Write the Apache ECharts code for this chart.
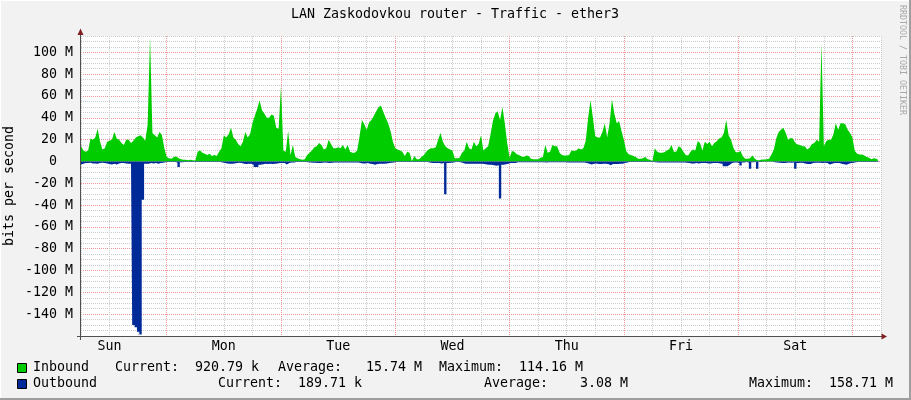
<!DOCTYPE html>
<html>
<head>
<meta charset="utf-8">
<title>LAN Zaskodovkou router - Traffic - ether3</title>
<script src="https://cdn.jsdelivr.net/npm/echarts@6/dist/echarts.min.js"></script>
<style>
  html, body { margin: 0; padding: 0; background: #f2f2f2; }
  #chart { width: 911px; height: 400px; }
</style>
</head>
<body>
<div id="chart"></div>
<script>
// samples every 30 minutes, starting Sunday 06:00 (hours counted from Sunday 00:00)
const startHour = 6;
const stepHours = 0.5;

const dayLabels = ['Sun', 'Mon', 'Tue', 'Wed', 'Thu', 'Fri', 'Sat'];
// vertical grid every 6 h; day boundaries are multiples of 24
const hourTicks = [6, 12, 18, 24, 30, 36, 42, 48, 54, 60, 66, 72, 78, 84, 90, 96,
  102, 108, 114, 120, 126, 132, 138, 144, 150, 156, 162, 168, 174];
// horizontal grid every 5 M; major lines every 20 M
const levelTicks = [-160, -155, -150, -145, -140, -135, -130, -125, -120, -115, -110, -105,
  -100, -95, -90, -85, -80, -75, -70, -65, -60, -55, -50, -45, -40, -35, -30, -25, -20, -15,
  -10, -5, 0, 5, 10, 15, 20, 25, 30, 35, 40, 45, 50, 55, 60, 65, 70, 75, 80, 85, 90, 95,
  100, 105, 110, 115];

// inbound traffic, Mbit/s
const inbound = [
  14, 10, 9, 10, 21, 20, 22, 30, 18, 11, 12, 18, 19, 20, 27, 21, 20, 17, 15, 20,
  20, 17, 19, 22, 23, 24, 22, 19, 34, 114, 26, 24, 22, 27, 24, 12, 4, 3, 2.5, 4,
  4.5, 3, 2, 1.5, 1.5, 1.2, 1.5, 1, 0.8, 9, 10, 8, 7, 6, 7, 5, 6, 5, 9, 12,
  24, 22, 25, 31, 22, 20, 16, 14, 18, 27, 22, 25, 35, 42, 48, 56, 47, 44, 40, 40,
  43, 42, 31, 30,
  69, 10, 9, 28, 6, 15, 4, 3, 2, 1.5, 2, 6, 8, 10, 13, 14, 17, 15, 11, 12,
  20, 16, 12, 12, 13, 12, 15, 11, 15, 9, 8, 8, 10, 23, 38, 34, 29, 36, 38, 42,
  46, 50, 51, 45, 40, 35, 28, 18, 12, 11, 10, 9, 5, 9, 8, 0.5, 5, 2, 2, 4,
  6, 9, 11, 12, 12, 13, 20, 26, 18, 14, 12, 11, 10, 3, 3, 3.5, 8, 10, 18, 12,
  11, 18, 14, 16,
  24, 10, 12, 14, 25, 37, 44, 46, 38, 50, 35, 17, 3.5, 9.5, 9, 6.5, 6, 4.5, 4, 5.5,
  5, 2.5, 2, 2, 2, 3.5, 4, 15, 8, 9, 15, 14, 14, 8, 6, 5.5, 5.5, 6, 10, 9.5,
  10, 12, 11, 12, 19, 40, 56, 40, 23, 22, 22, 27, 35, 22, 35, 57, 44, 35, 37, 28,
  20, 9.5, 6.5, 6, 5, 4, 2.5, 2.5, 3, 4, 2, 1.5, 0.5, 12, 9, 8, 8, 8.5, 10, 11,
  15, 9, 9, 14,
  12.5, 9, 6, 5.5, 9, 11, 10, 18.6, 17, 10, 18, 16, 18, 14, 17, 18.6, 21, 22, 26, 38,
  24, 20, 12.5, 8.5, 8.5, 9.5, 4.5, 2.5, 2.4, 3, 5.5, 2.4, 1, 1, 1.8, 1.8, 2, 2.4, 6.4, 11,
  21, 27, 29, 31, 26, 20, 21.6, 21, 17, 15.5, 15, 14, 14, 11, 12.5, 16, 17, 20, 18, 108,
  14, 18.6, 20, 20, 24.7, 35, 29, 35, 35, 34, 29, 26, 22, 9.5, 7, 6.4, 6.4, 5.5, 4, 3.4,
  2, 3, 2.4, 1, null
];

// outbound traffic, Mbit/s (drawn below zero)
const outbound = [
  -2.7, -2, -1.5, -1.5, -1.2, -1.8, -1.8, -2, -1.5, -1.2, -1.5, -1.8, -2.4, -2.7, -2.2, -2.7, -1.8, -1.5, -1.5, -1.8,
  -2, -2, -150, -152, -156, -158.7, -35, -2, -2, -1.5, -1.8, -1.5, -2, -1.5, -1.2, -0.8, -0.5, -0.5, -0.5, -0.5,
  -1, -5, -0.8, -0.4, -0.4, -0.4, -0.4, -0.4, -0.4, -0.6, -0.6, -0.6, -0.6, -0.6, -0.6, -0.6, -0.6, -0.6, -0.6, -1,
  -1.5, -1.8, -2, -2.2, -1.8, -1.5, -1.2, -1.5, -2, -2.4, -2, -2.2, -3, -5, -5, -3, -2.5, -2.2, -2.4, -2,
  -2.4, -2, -1.8, -1.5,
  -1.5, -1.5, -2.7, -1.5, -1, -1, -0.5, -0.5, -0.5, -0.5, -0.5, -0.8, -1, -1.2, -1.2, -1.5, -1.5, -1.2, -1, -1.2,
  -1.5, -1.2, -1, -1, -1, -1, -1, -1, -1, -1, -1, -1, -1, -1.5, -1.8, -1.8, -1.5, -2, -2.4, -3,
  -2.4, -2, -2, -2, -1.8, -1.5, -1.2, -1, -0.5, -0.5, -0.5, -0.5, -0.5, -0.5, -0.5, -0.5, -0.5, -0.5, -0.5, -0.5,
  -0.5, -0.5, -1, -1.5, -1.5, -1.5, -1.5, -1.8, -1.5, -30, -1.5, -1.2, -1, -0.5, -0.5, -0.8, -1.5, -2, -2, -2.2,
  -2, -2, -2, -2,
  -2, -2.4, -2.7, -3, -3, -3.5, -4, -3.5, -34, -3, -2.5, -2, -1.5, -1.5, -1.5, -0.8, -0.8, -0.8, -0.8, -0.8,
  -0.8, -0.8, -0.8, -0.8, -0.8, -0.8, -0.8, -1, -0.8, -0.8, -0.8, -0.8, -0.8, -0.8, -0.8, -0.8, -1, -1, -1, -1,
  -1, -1, -1, -1, -1.5, -2, -2.7, -2, -1.8, -2.4, -2.4, -2, -2.2, -2.4, -3.5, -2.4, -2.4, -2.4, -2.2, -2,
  -1.5, -1, -0.5, -0.5, -0.5, -0.5, -0.5, -0.5, -0.5, -0.5, -0.5, -0.5, -0.5, -0.8, -1, -1, -1, -1, -1, -1,
  -1, -1, -1, -1,
  -1, -1, -1.2, -1.5, -1.8, -1.8, -1.5, -1.8, -1.5, -1.5, -1.5, -1.8, -1.8, -1.5, -1.5, -1.5, -1.8, -2, -4.3, -4.5,
  -3, -1.5, -1, -1, -1.5, -3.7, -1, -0.5, -1, -6.7, -0.8, -0.5, -6.7, -0.5, -0.3, -0.3, -0.3, -0.3, -0.3, -0.8,
  -1, -1.2, -1.5, -1.5, -1.2, -1, -1.2, -1, -6.7, -1.5, -1.2, -1.5, -2, -2.4, -2.4, -1.5, -1.2, -1.2, -1.2, -1.5,
  -1.2, -1.5, -2.7, -2, -1.5, -1.5, -1.5, -2, -2.5, -3, -2, -1.5, -1.2, -0.8, -0.5, -0.5, -0.5, -0.5, -0.5, -0.5,
  -0.5, -0.5, -0.5, -0.5, null
];

const legendRows = [
  ['Inbound', 'Current:  920.79 k', 'Average:   15.74 M', 'Maximum:  114.16 M'],
  ['Outbound', 'Current:  189.71 k', 'Average:    3.08 M', 'Maximum:  158.71 M']
];

const GREEN = '#00cc00';
const BLUE = '#002a97';
const MINOR = '#cccccc';
const MAJOR = '#ee9494';
const AXIS = '#505050';
const ARROW = '#801f1f';
const mono = "'DejaVu Sans Mono', monospace";

const toPairs = arr => arr.map((v, i) => [startHour + i * stepHours, v]);

const fmtM = v => (v === 0 ? '0  ' : v + ' M');

const isDay = h => h % 24 === 0;
const isMajor = v => v % 20 === 0 && v > -160;

// grid-only category axis: draws dotted lines at the ticks chosen by showFn (looked up by index)
const gridAxis = (ticks, showFn, color) => ({
  type: 'category',
  boundaryGap: false,
  data: ticks.map(String),
  axisLine: { show: false, onZero: false },
  axisTick: { show: false },
  axisLabel: { show: false },
  splitLine: {
    show: true,
    interval: idx => showFn(ticks[idx]),
    lineStyle: { color: color, type: [1, 1], width: 1 }
  }
});

const chart = echarts.init(document.getElementById('chart'));

const legendX = [[33, 115, 278, 439], [33, 218, 484, 749]];
const legendY = [368, 384];
const legendColors = [GREEN, BLUE];

const graphics = [
  // frame
  { type: 'line', shape: { x1: 0, y1: 0.5, x2: 911, y2: 0.5 }, style: { stroke: '#ffffff', lineWidth: 1 } },
  { type: 'line', shape: { x1: 0.5, y1: 0, x2: 0.5, y2: 400 }, style: { stroke: '#ffffff', lineWidth: 1 } },
  { type: 'line', shape: { x1: 910, y1: 0, x2: 910, y2: 400 }, style: { stroke: '#9e9e9e', lineWidth: 2 } },
  { type: 'line', shape: { x1: 0, y1: 399, x2: 911, y2: 399 }, style: { stroke: '#9e9e9e', lineWidth: 2 } },
  // axes
  { type: 'line', shape: { x1: 80.5, y1: 340, x2: 80.5, y2: 33 }, style: { stroke: AXIS, lineWidth: 1 } },
  { type: 'line', shape: { x1: 77, y1: 336.5, x2: 883, y2: 336.5 }, style: { stroke: AXIS, lineWidth: 1 } },
  { type: 'polygon', shape: { points: [[80.5, 28.5], [77.5, 35], [83.5, 35]] }, style: { fill: ARROW } },
  { type: 'polygon', shape: { points: [[887, 336.5], [881.5, 333.5], [881.5, 339.5]] }, style: { fill: ARROW } },
  // texts
  { type: 'text', x: 455, y: 15, style: { text: 'LAN Zaskodovkou router - Traffic - ether3', font: '13.3px ' + mono, fill: '#000', align: 'center', verticalAlign: 'middle' } },
  { type: 'text', x: 10, y: 186, rotation: Math.PI / 2, style: { text: 'bits per second', font: '13.3px ' + mono, fill: '#000', align: 'center', verticalAlign: 'middle' } },
  { type: 'text', x: 902.5, y: 60, rotation: -Math.PI / 2, style: { text: 'RRDTOOL / TOBI OETIKER', font: '8.3px ' + mono, fill: '#a8a8a8', align: 'center', verticalAlign: 'middle' } }
];

legendRows.forEach((row, r) => {
  graphics.push({ type: 'rect', shape: { x: 17.5, y: legendY[r] - 4.5, width: 9, height: 9 }, style: { fill: legendColors[r], stroke: '#000', lineWidth: 1 } });
  row.forEach((txt, c) => {
    graphics.push({ type: 'text', x: legendX[r][c], y: legendY[r], style: { text: txt, font: '13.3px ' + mono, fill: '#000', align: 'left', verticalAlign: 'middle' } });
  });
});

const option = {
  backgroundColor: '#f2f2f2',
  animation: false,
  grid: { left: 81, top: 36, width: 800, height: 300, show: true, backgroundColor: '#ffffff', borderWidth: 0 },
  xAxis: [
    {
      // data axis: hours, day names at noon
      type: 'value',
      min: 6,
      max: 174,
      interval: 6,
      axisLine: { show: false, onZero: false },
      axisTick: { show: false },
      axisLabel: {
        margin: 4,
        fontFamily: mono,
        fontSize: 13.3,
        color: '#000',
        formatter: v => (v % 24 === 12 ? dayLabels[(v - 12) / 24] : '')
      },
      splitLine: { show: false }
    },
    gridAxis(hourTicks, h => !isDay(h), MINOR),
    gridAxis(hourTicks, isDay, MAJOR)
  ],
  yAxis: [
    {
      type: 'value',
      min: -160,
      max: 115,
      interval: 20,
      axisLine: { show: false, onZero: false },
      axisTick: { show: false },
      axisLabel: {
        margin: 8,
        fontFamily: mono,
        fontSize: 13.3,
        color: '#000',
        formatter: v => (isMajor(v) ? fmtM(v) : '')
      },
      splitLine: { show: false }
    },
    gridAxis(levelTicks, v => !isMajor(v), MINOR),
    gridAxis(levelTicks, isMajor, MAJOR)
  ],
  series: [
    {
      name: 'Inbound',
      type: 'line',
      data: toPairs(inbound),
      symbol: 'none',
      silent: true,
      lineStyle: { width: 0 },
      itemStyle: { color: GREEN },
      areaStyle: { color: GREEN, opacity: 1 }
    },
    {
      name: 'Outbound',
      type: 'line',
      step: 'middle',
      data: toPairs(outbound),
      symbol: 'none',
      silent: true,
      lineStyle: { width: 0 },
      itemStyle: { color: BLUE },
      areaStyle: { color: BLUE, opacity: 1 }
    }
  ],
  graphic: { elements: graphics.map(g => Object.assign({ z: 100, silent: true }, g)) }
};

chart.setOption(option);
</script>
</body>
</html>
